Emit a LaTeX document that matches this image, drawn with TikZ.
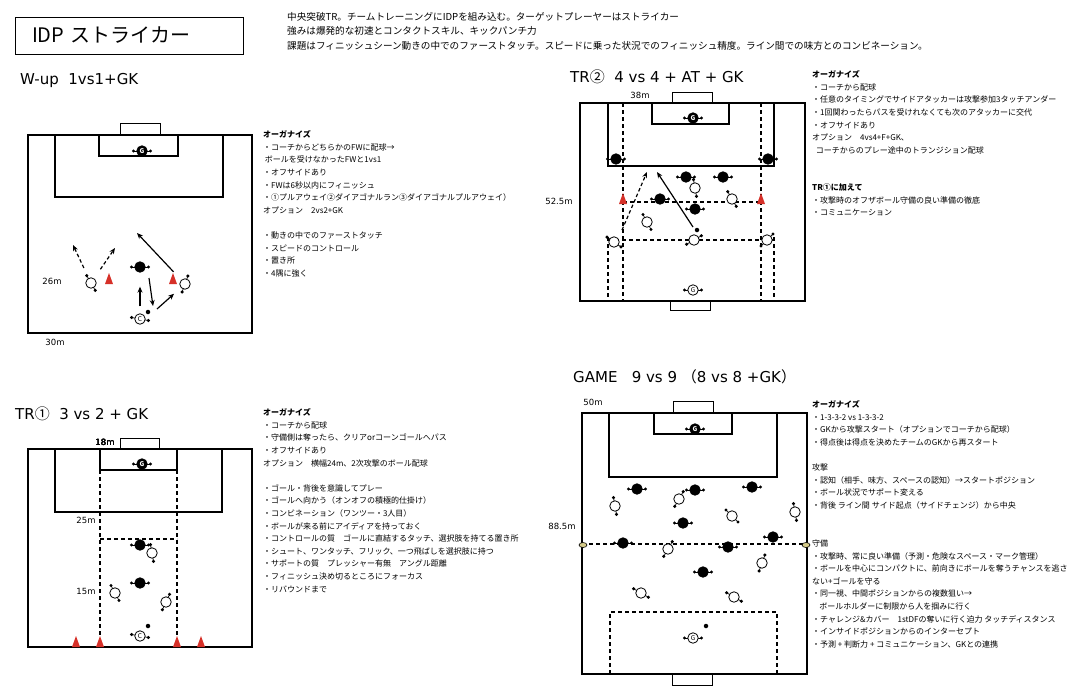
\documentclass[tikz,border=0pt]{standalone}
\usepackage{fontspec}
\setmainfont{Noto Sans CJK JP}
\newfontfamily\jp{Noto Sans CJK JP}
\newfontfamily\dejavu{DejaVu Sans}
\usetikzlibrary{arrows.meta,calc}
\definecolor{conered}{RGB}{214,48,40}
\definecolor{flagkhaki}{RGB}{214,204,138}

% player with two arms: [letter] name, position, arm angle, look
\newcommand{\plyr}[5][]{%
  \draw[arm] ($(#3)+(#4:8.5)$) -- ($(#3)+(#4+180:8.5)$);
  \fill ($(#3)+(#4:8.5)$) circle[radius=1.7pt] ($(#3)+(#4+180:8.5)$) circle[radius=1.7pt];
  \node[#5] (#2) at (#3) {#1};}
% cone, base centre
\newcommand{\cone}[1]{\fill[conered] ($(#1)+(-4,0)$) -- ($(#1)+(4,0)$) -- ($(#1)+(0,-11)$) -- cycle;}

\begin{document}
\begin{tikzpicture}[x=1pt, y=-1pt,
    field/.style={line width=1.6pt},
    box/.style={line width=1.1pt},
    goal/.style={line width=0.9pt, fill=white},
    lane/.style={line width=1.1pt, dash pattern=on 4pt off 3pt},
    man/.style={circle, draw, line width=0.8pt, inner sep=0pt, minimum size=10.5pt},
    blk/.style={man, fill=black},
    wht/.style={man, fill=white},
    gk/.style={man, fill=black, text=white, font=\fontsize{6.5}{6.5}\selectfont\bfseries},
    gkw/.style={man, fill=white, font=\fontsize{6.5}{6.5}\selectfont},
    coach/.style={man, fill=white, font=\fontsize{6.5}{6.5}\selectfont},
    ball/.style={circle, fill=black, inner sep=0pt, minimum size=4.5pt},
    arm/.style={line width=0.7pt},
    passarr/.style={-{Stealth[length=6pt,width=5pt]}, line width=1.2pt},
    runarr/.style={passarr, dash pattern=on 3.5pt off 2.5pt},
    flag/.style={draw, fill=flagkhaki, line width=0.6pt},
    note/.style={anchor=north west, align=left, inner sep=0pt, font=\fontsize{8}{12.6}\selectfont},
    drill/.style={anchor=west, inner sep=0pt, font=\dejavu\fontsize{15}{15}\selectfont},
    dist/.style={inner sep=0pt, font=\dejavu\fontsize{8.5}{9}\selectfont},
]
\fill[white] (0,0) rectangle (1080,694);
\useasboundingbox (0,0) rectangle (1080,694);

% header
\node[draw, line width=0.8pt, minimum height=37pt, text width=194pt, inner xsep=17pt, align=left,
      font=\fontsize{20}{20}\selectfont] (title) at (129,35.5) {IDP ストライカー};
\node[anchor=north west, align=left, inner sep=0pt, font=\fontsize{9.6}{14.5}\selectfont] (intro) at (287,12)
  {中央突破TR。チームトレーニングにIDPを組み込む。ターゲットプレーヤーはストライカー\\
   強みは爆発的な初速とコンタクトスキル、キックパンチ力\\
   課題はフィニッシュシーン動きの中でのファーストタッチ。スピードに乗った状況でのフィニッシュ精度。ライン間での味方とのコンビネーション。};

% W-up
\node[drill] (wup) at (20,80) {W-up\ \ 1vs1+GK};
\draw[goal] (120,123) rectangle (160,135);
\draw[field] (28,135) rectangle (252,333);
\draw[box] (55,135) rectangle (223,197);
\draw[box] (99,135) rectangle (178,156);
\node[dist] (w-len) at (52,281) {26m};
\node[dist] (w-wid) at (55,342) {30m};
\cone{109,284}
\cone{173,284}
\plyr[G]{w-gk}{142,151}{0}{gk}
\plyr{w-fw1}{91,283}{60}{wht}
\plyr{w-fw2}{185,284}{110}{wht}
\plyr{w-cb}{140,267}{0}{blk}
\plyr[C]{w-co}{140,319}{10}{coach}
\node[ball] (w-ball) at (148,312) {};
\coordinate (w-r1) at (73,245);
\coordinate (w-r2) at (115,248);
\coordinate (w-p1s) at (149,278);
\coordinate (w-p1e) at (153,306);
\coordinate (w-p2s) at (157,309);
\coordinate (w-p3e) at (137,233);
\draw[runarr, shorten <=11pt] (w-fw1) -- (w-r1);
\draw[runarr, shorten <=11pt] (w-fw1) -- (w-r2);
\draw[passarr, shorten <=7pt, shorten >=14pt] (w-co) -- (w-cb);
\draw[passarr] (w-p1s) -- (w-p1e);
\draw[passarr, shorten >=9pt] (w-p2s) -- (w-fw2);
\draw[passarr, shorten <=11pt] (w-fw2) -- (w-p3e);
\node[note] (w-notes) at (263,130.5)
  {\textbf{オーガナイズ}\\
   ・コーチからどちらかのFWに配球→\\
   \ ボールを受けなかったFWと1vs1\\
   ・オフサイドあり\\
   ・FWは6秒以内にフィニッシュ\\
   ・①プルアウェイ②ダイアゴナルラン③ダイアゴナルプルアウェイ）\\
   オプション　2vs2+GK\\[12.6pt]
   ・動きの中でのファーストタッチ\\
   ・スピードのコントロール\\
   ・置き所\\
   ・4隅に強く};

% TR2
\node[drill] (tr2) at (570,77) {TR{\jp ②}\ \ 4 vs 4 + AT + GK};
\draw[goal] (672,92) rectangle (712,103);
\draw[goal] (670,301) rectangle (710,310);
\draw[field] (580,103) rectangle (805,301);
\draw[box] (608,103) rectangle (774,166);
\draw[box] (652,103) rectangle (729,124);
\draw[lane] (623,103) -- (623,301) (761,103) -- (761,301);
\draw[lane] (608,237) -- (608,301) (774,237) -- (774,301);
\draw[lane] (623,202) -- (761,202) (608,240) -- (774,240);
\cone{623,204}
\cone{761,204}
\node[dist] (t2-wid) at (640,95) {38m};
\node[dist] (t2-len) at (559,201) {52.5m};
\plyr[G]{t2-gk}{693,118}{0}{gk}
\plyr{t2-b1}{616,159}{0}{blk}
\plyr{t2-b2}{768,159}{0}{blk}
\plyr{t2-b3}{686,177}{0}{blk}
\plyr{t2-b4}{723,177}{0}{blk}
\plyr{t2-w1}{695,188}{80}{wht}
\plyr{t2-b5}{660,199}{0}{blk}
\plyr{t2-w2}{732,199}{60}{wht}
\plyr{t2-b6}{695,209}{0}{blk}
\plyr{t2-w3}{647,222}{62}{wht}
\plyr{t2-w4}{694,240}{150}{wht}
\plyr{t2-w5}{614,242}{35}{wht}
\plyr{t2-w6}{767,240}{135}{wht}
\plyr[G]{t2-gk2}{693,290}{0}{gkw}
\node[ball] (t2-ball) at (697,230) {};
\coordinate (t2-r1s) at (622,230);
\coordinate (t2-r1e) at (647,172);
\coordinate (t2-p1s) at (693,227);
\coordinate (t2-p1e) at (657,172);
\draw[runarr] (t2-r1s) -- (t2-r1e);
\draw[passarr] (t2-p1s) -- (t2-p1e);
\node[note] (t2-notes) at (812,70.5)
  {\textbf{オーガナイズ}\\
   ・コーチから配球\\
   ・任意のタイミングでサイドアタッカーは攻撃参加3タッチアンダー\\
   ・1回関わったらパスを受けれなくても次のアタッカーに交代\\
   ・オフサイドあり\\
   オプション　4vs4+F+GK、\\
   \ \ コーチからのプレー途中のトランジション配球};
\node[note] (t2-plus) at (812,183.5)
  {\textbf{TR①に加えて}\\
   ・攻撃時のオフザボール守備の良い準備の徹底\\
   ・コミュニケーション};

% TR1
\node[drill] (tr1) at (15,414) {TR{\jp ①}\ \ 3 vs 2 + GK};
\draw[goal] (120,438) rectangle (159,449);
\draw[field] (28,449) rectangle (252,647);
\draw[box] (55,449) rectangle (222,512);
\draw[box] (100,449) rectangle (177,470);
\draw[lane] (100,470) -- (100,647) (177,470) -- (177,647) (100,539) -- (177,539);
\foreach \cx in {76,100,177,201} \cone{\cx,647}
\node[dist] (t1-goal) at (105,442) {18m};
\node[dist] (t1-len) at (86,520) {25m};
\node[dist] (t1-zone) at (86,591) {15m};
\plyr[G]{t1-gk}{142,464}{0}{gk}
\plyr{t1-b1}{140,545}{0}{blk}
\plyr{t1-w1}{152,553}{80}{wht}
\plyr{t1-b2}{140,583}{0}{blk}
\plyr{t1-w2}{115,593}{62}{wht}
\plyr{t1-w3}{166,602}{115}{wht}
\node[ball] (t1-ball) at (148,626) {};
\plyr[C]{t1-co}{140,636}{10}{coach}
\node[note] (t1-notes) at (263,408.5)
  {\textbf{オーガナイズ}\\
   ・コーチから配球\\
   ・守備側は奪ったら、クリアorコーンゴールへパス\\
   ・オフサイドあり\\
   オプション　横幅24m、2次攻撃のボール配球\\[12.6pt]
   ・ゴール・背後を意識してプレー\\
   ・ゴールへ向かう（オンオフの積極的仕掛け）\\
   ・コンビネーション（ワンツー・3人目）\\
   ・ボールが来る前にアイディアを持っておく\\
   ・コントロールの質　ゴールに直結するタッチ、選択肢を持てる置き所\\
   ・シュート、ワンタッチ、フリック、一つ飛ばしを選択肢に持つ\\
   ・サポートの質　プレッシャー有無　アングル距離\\
   ・フィニッシュ決め切るところにフォーカス\\
   ・リバウンドまで};

% GAME
\node[drill] (game) at (573,377) {GAME\ \ \ 9 vs 9 {\jp （}8 vs 8 +GK{\jp ）}};
\draw[goal] (673,401) rectangle (713,413);
\draw[goal] (672,674) rectangle (712,685);
\draw[field] (582,413) rectangle (807,674);
\draw[box] (609,413) rectangle (777,477);
\draw[box] (654,413) rectangle (732,434);
\draw[lane] (582,544) -- (807,544);
\draw[lane] (610,674) -- (610,612) -- (777,612) -- (777,674);
\fill[flag] (583,545) ellipse[x radius=4pt, y radius=2.5pt];
\fill[flag] (806,545) ellipse[x radius=4pt, y radius=2.5pt];
\node[dist] (g-wid) at (593,402) {50m};
\node[dist] (g-len) at (562,526) {88.5m};
\plyr[G]{g-gk}{695,429}{0}{gk}
\plyr{g-b1}{637,489}{0}{blk}
\plyr{g-b2}{695,490}{0}{blk}
\plyr{g-b3}{752,487}{0}{blk}
\plyr{g-w1}{615,506}{80}{wht}
\plyr{g-w2}{679,499}{120}{wht}
\plyr{g-w3}{795,512}{80}{wht}
\plyr{g-w4}{732,516}{45}{wht}
\plyr{g-b4}{683,523}{0}{blk}
\plyr{g-b5}{773,537}{0}{blk}
\plyr{g-b6}{623,543}{0}{blk}
\plyr{g-b7}{728,547}{0}{blk}
\plyr{g-w5}{668,549}{120}{wht}
\plyr{g-w6}{762,563}{110}{wht}
\plyr{g-b8}{703,572}{0}{blk}
\plyr{g-w7}{641,593}{30}{wht}
\plyr{g-w8}{734,597}{30}{wht}
\node[ball] (g-ball) at (706,626) {};
\plyr[G]{g-gk2}{693,638}{0}{gkw}
\node[note] (g-notes) at (812,400.5)
  {\textbf{オーガナイズ}\\
   ・1-3-3-2 vs 1-3-3-2\\
   ・GKから攻撃スタート（オプションでコーチから配球）\\
   ・得点後は得点を決めたチームのGKから再スタート\\[12.6pt]
   攻撃\\
   ・認知（相手、味方、スペースの認知）→スタートポジション\\
   ・ボール状況でサポート変える\\
   ・背後 ライン間 サイド起点（サイドチェンジ）から中央};
\node[note] (g-def) at (812,539.5)
  {守備\\
   ・攻撃時、常に良い準備（予測・危険なスペース・マーク管理）\\
   ・ボールを中心にコンパクトに、前向きにボールを奪うチャンスを逃さ\\
   ない+ゴールを守る\\
   ・同一視、中間ポジションからの複数狙い→\\
   \ \ \ \ ボールホルダーに制限から人を掴みに行く\\
   ・チャレンジ\&カバー　1stDFの奪いに行く迫力 タッチディスタンス\\
   ・インサイドポジションからのインターセプト\\
   ・予測 + 判断力 + コミュニケーション、GKとの連携};
\end{tikzpicture}
\end{document}
